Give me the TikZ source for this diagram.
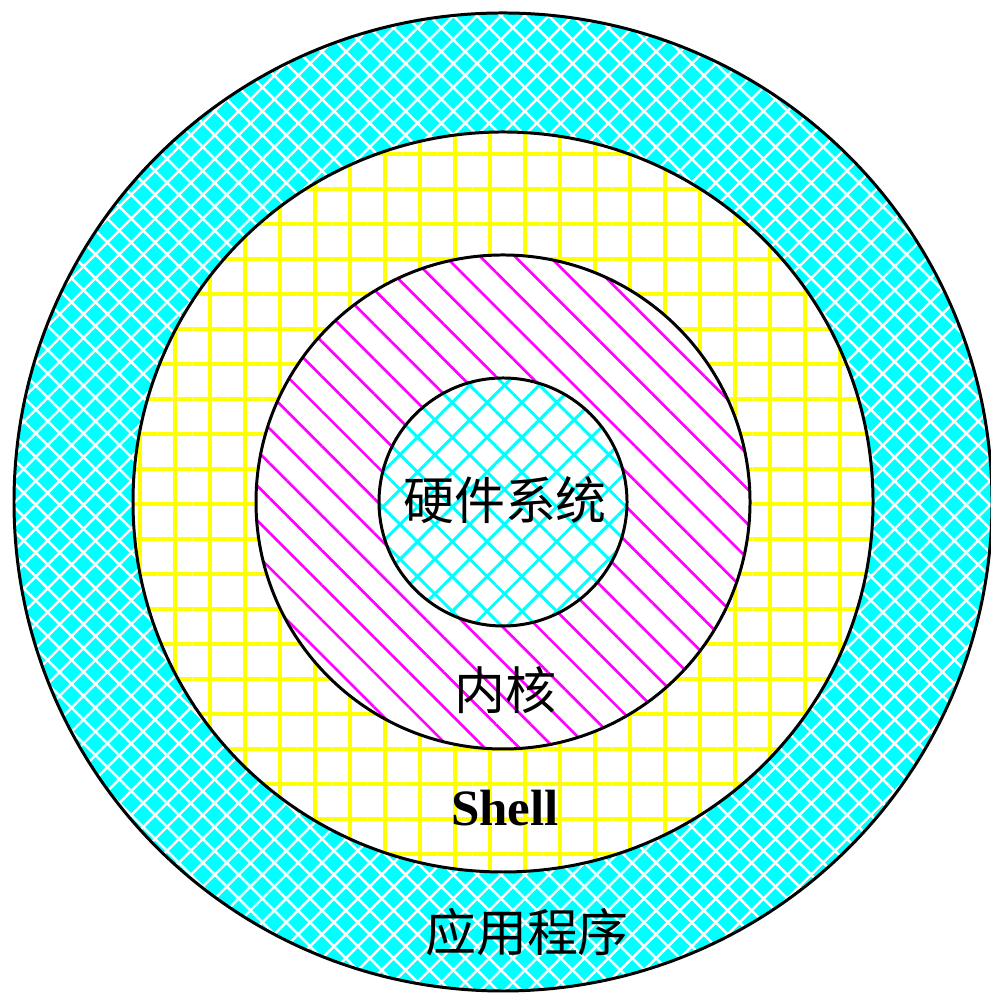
\documentclass[tikz,border=0pt]{standalone}
\usepackage{fontspec}
\setmainfont{Liberation Serif}
\newfontfamily\cjk{Noto Sans CJK SC}
\usetikzlibrary{patterns.meta}
\definecolor{aqua}{RGB}{0,255,255}
\definecolor{lemon}{RGB}{255,255,0}
\definecolor{pink}{RGB}{255,0,255}
\tikzset{
  layer/.style={circle, draw=black, line width=0.85pt, inner sep=0pt},
  label cn/.style={font=\cjk\fontsize{14.5}{17}\selectfont},
}
\begin{document}
\begin{tikzpicture}
\useasboundingbox (0,0) rectangle (9.9,9.94);
\coordinate (c) at (5.03,4.92);
% rings from outside in
\node [layer, minimum size=9.78cm, preaction={fill=aqua},
  pattern={Hatch[angle=45, distance=4.8pt, line width=0.7pt]}, pattern color=white] (app) at (c) {};
\node [layer, minimum size=7.40cm, preaction={fill=white},
  pattern={Hatch[angle=0, distance=9.96pt, line width=1.2pt]}, pattern color=lemon] (shell) at (c) {};
\node [layer, minimum size=4.94cm, preaction={fill=white},
  pattern={Lines[angle=-45, distance=7pt, line width=0.75pt]}, pattern color=pink] (kernel) at (c) {};
\node [layer, minimum size=2.48cm, preaction={fill=white},
  pattern={Hatch[angle=45, distance=7pt, line width=0.85pt]}, pattern color=aqua] (hw) at (c) {};
% labels
\node [label cn] (hwtext) at (5.05,4.94) {硬件系统};
\node [label cn] (kerneltext) at (5.05,3.04) {内核};
\node [font=\bfseries\fontsize{14.5}{17}\selectfont] (shelltext) at (5.05,1.86) {Shell};
\node [label cn] (apptext) at (5.27,0.62) {应用程序};
\end{tikzpicture}
\end{document}
